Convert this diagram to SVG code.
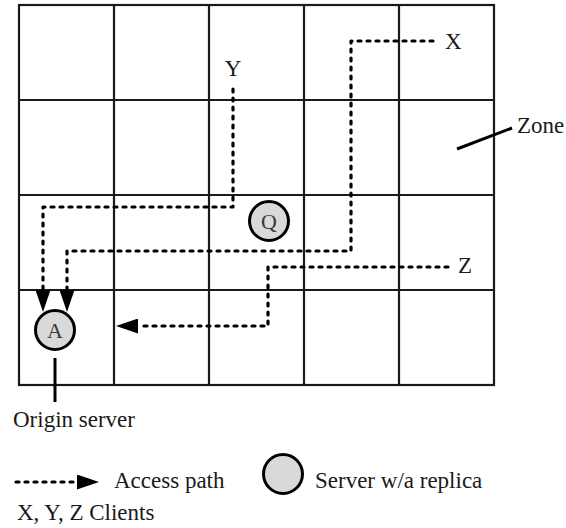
<svg xmlns="http://www.w3.org/2000/svg" width="566" height="528" viewBox="0 0 566 528">
  <style>
    .grid { fill: none; stroke: #1a1a1a; stroke-width: 2.2; }
    .path { fill: none; stroke: #000; stroke-width: 3.2; stroke-dasharray: 3 6; stroke-linecap: round; stroke-linejoin: round; }
    .solid { fill: none; stroke: #000; stroke-width: 3; }
    .server { fill: #d9d9d9; stroke: #000; stroke-width: 3; }
    .lbl { font-family: "Liberation Serif", "Times New Roman", serif; font-size: 23px; fill: #1a1a1a; }
    .srv { font-family: "Liberation Serif", "Times New Roman", serif; font-size: 22px; fill: #3a3a3a; text-anchor: middle; }
  </style>
  <defs>
    <marker id="arrow" viewBox="0 0 22 15" refX="0" refY="7.5" markerWidth="22" markerHeight="15" markerUnits="userSpaceOnUse" orient="auto">
      <path d="M0,0 L22,7.5 L0,15 z" fill="#000"/>
    </marker>
  </defs>
  <rect width="566" height="528" fill="#fff"/>

  <g id="grid">
    <rect class="grid" x="19" y="5" width="475" height="380"/>
    <path class="grid" d="M114,5 V385 M209,5 V385 M304,5 V385 M399,5 V385 M19,100 H494 M19,195 H494 M19,290 H494"/>
  </g>

  <g id="connectors">
    <path id="path-y" class="path" d="M233,89 V207 H43 V290" marker-end="url(#arrow)"/>
    <path id="path-x" class="path" d="M433,41 H351 V251 H67 V290" marker-end="url(#arrow)"/>
    <path id="path-z" class="path" d="M448,267 H268 V326 H138" marker-end="url(#arrow)"/>
    <line id="zone-pointer" class="solid" x1="457" y1="149" x2="512" y2="128"/>
    <line id="origin-pointer" class="solid" x1="55" y1="358" x2="55" y2="402"/>
  </g>

  <g id="node-q">
    <circle class="server" cx="269" cy="221" r="19.5"/>
    <text class="srv" x="269" y="229">Q</text>
  </g>
  <g id="node-a">
    <circle class="server" cx="55" cy="330" r="19.5"/>
    <text class="srv" x="55" y="337.5">A</text>
  </g>

  <g id="client-y"><text class="lbl" x="233" y="76" text-anchor="middle">Y</text></g>
  <g id="client-x"><text class="lbl" x="445" y="49">X</text></g>
  <g id="client-z"><text class="lbl" x="458" y="273">Z</text></g>
  <g id="zone-label"><text class="lbl" x="517" y="133">Zone</text></g>
  <g id="origin-label"><text class="lbl" x="13" y="427">Origin server</text></g>

  <g id="legend">
    <path class="path" d="M16,482 H77" marker-end="url(#arrow)"/>
    <text class="lbl" x="114" y="488">Access path</text>
    <circle class="server" cx="283" cy="474" r="19.5"/>
    <text class="lbl" x="315" y="488">Server w/a replica</text>
    <text class="lbl" x="17" y="520">X, Y, Z Clients</text>
  </g>
</svg>
